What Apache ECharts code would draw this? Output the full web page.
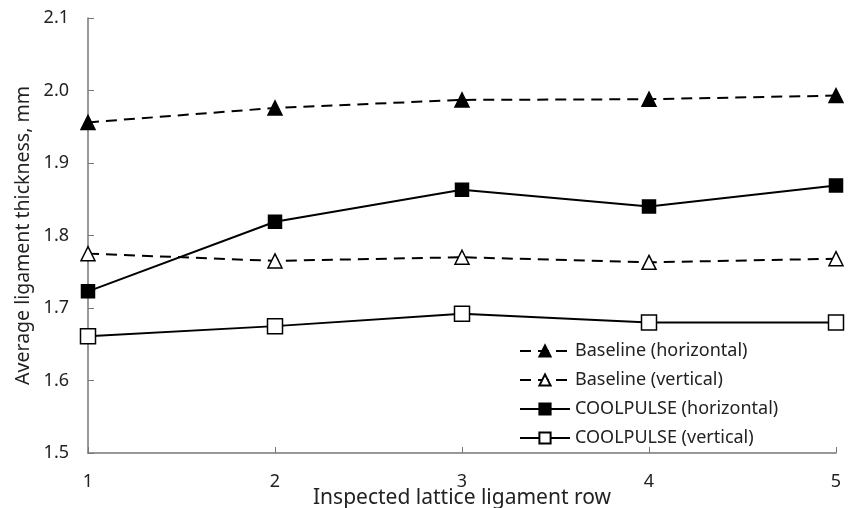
<!DOCTYPE html>
<html>
<head>
<meta charset="utf-8">
<script src="https://cdn.jsdelivr.net/npm/echarts@6/dist/echarts.min.js"></script>
<style>
  html, body { margin: 0; padding: 0; background: #fff; }
  #chart { width: 851px; height: 508px; }
</style>
</head>
<body>
<div id="chart"></div>
<script>
// inspected rows
const rows = [1, 2, 3, 4, 5];
// average ligament thickness, mm
const baselineHorizontal = [1.956, 1.976, 1.987, 1.988, 1.993];
const baselineVertical = [1.775, 1.765, 1.770, 1.763, 1.768];
const coolpulseHorizontal = [1.723, 1.819, 1.863, 1.840, 1.869];
const coolpulseVertical = [1.661, 1.675, 1.692, 1.680, 1.680];
const seriesNames = [
    'Baseline (horizontal)',
    'Baseline (vertical)',
    'COOLPULSE (horizontal)',
    'COOLPULSE (vertical)'
];

const font = 'Noto Sans';
const toPairs = (vals) => rows.map((r, i) => [r, vals[i]]);

function makeSeries(name, vals, symbol, size, filled, dashed) {
    return {
        name: name,
        type: 'line',
        data: toPairs(vals),
        symbol: symbol,
        symbolSize: size,
        showSymbol: true,
        lineStyle: { color: '#000', width: 2, type: dashed ? [11, 7] : 'solid' },
        itemStyle: {
            color: filled ? '#000' : '#fff',
            borderColor: '#000',
            borderWidth: 1.5,
            opacity: 1
        },
        emphasis: { disabled: true },
        z: 3
    };
}

const chart = echarts.init(document.getElementById('chart'));
chart.setOption({
    animation: false,
    grid: { left: 88, right: 15, top: 18, bottom: 55, outerBoundsMode: 'none', containLabel: false },
    xAxis: {
        type: 'value',
        min: 1,
        max: 5,
        interval: 1,
        name: 'Inspected lattice ligament row',
        nameLocation: 'middle',
        nameGap: 35,
        nameMoveOverlap: false,
        nameTextStyle: { fontFamily: font, fontSize: 21, color: '#222' },
        axisLine: { lineStyle: { color: '#777', width: 1.5 } },
        axisTick: { inside: true, length: 6, lineStyle: { color: '#777' } },
        axisLabel: { fontFamily: font, fontSize: 18, color: '#222', margin: 20 },
        splitLine: { show: false }
    },
    yAxis: {
        type: 'value',
        min: 1.5,
        max: 2.1,
        interval: 0.1,
        name: 'Average ligament thickness, mm',
        nameLocation: 'middle',
        nameGap: 55,
        nameMoveOverlap: false,
        nameTextStyle: { fontFamily: font, fontSize: 19.5, color: '#222' },
        axisLine: { show: true, lineStyle: { color: '#777', width: 1.5 } },
        axisTick: { show: true, inside: true, length: 6, lineStyle: { color: '#777' } },
        axisLabel: {
            fontFamily: font, fontSize: 18, color: '#222', margin: 19,
            formatter: (v) => v.toFixed(1)
        },
        splitLine: { show: false }
    },
    legend: {
        orient: 'vertical',
        left: 514,
        top: 337,
        itemWidth: 50,
        itemHeight: 14,
        itemGap: 11,
        textStyle: { fontFamily: font, fontSize: 18, color: '#222' },
        data: seriesNames
    },
    series: [
        makeSeries(seriesNames[0], baselineHorizontal, 'triangle', 14, true, true),
        makeSeries(seriesNames[1], baselineVertical, 'triangle', 14, false, true),
        makeSeries(seriesNames[2], coolpulseHorizontal, 'rect', 13, true, false),
        makeSeries(seriesNames[3], coolpulseVertical, 'rect', 15, false, false)
    ]
});
</script>
</body>
</html>
